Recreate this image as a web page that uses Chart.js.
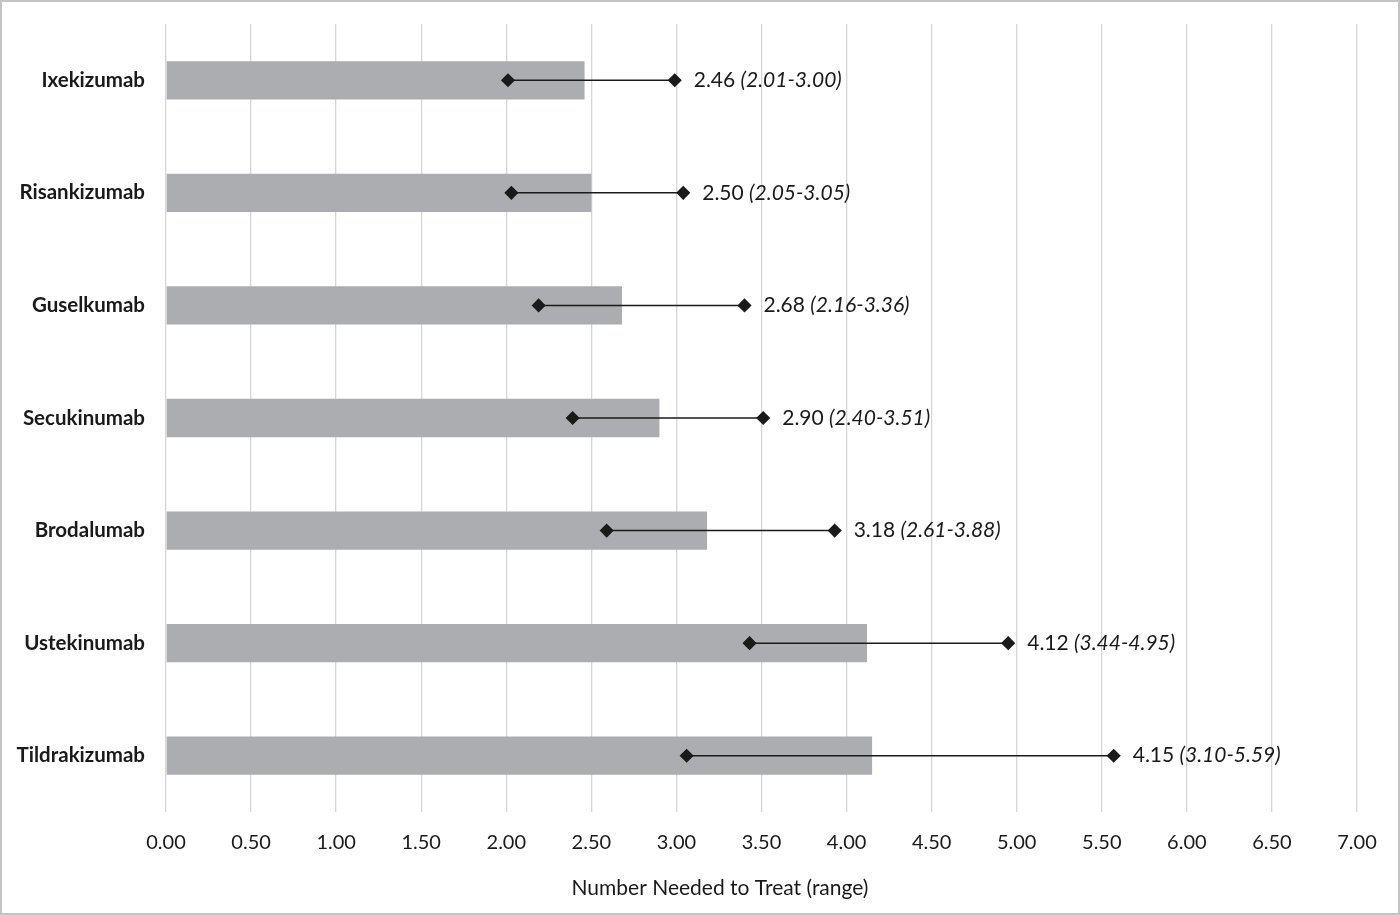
<!DOCTYPE html>
<html>
<head>
<meta charset="utf-8">
<script src="https://cdn.jsdelivr.net/npm/chart.js@4"></script>
<style>
  body { margin: 0; background: #fff; }
  .frame { width: 1396px; height: 911px; border: 2px solid #c4c4c4; position: relative; }
</style>
</head>
<body>
<div class="frame"><canvas id="nntChart" width="1396" height="911"></canvas></div>
<script>
const drugs = ["Ixekizumab", "Risankizumab", "Guselkumab", "Secukinumab", "Brodalumab", "Ustekinumab", "Tildrakizumab"];
const nnt = [2.46, 2.50, 2.68, 2.90, 3.18, 4.12, 4.15];
// marker positions as drawn in the figure
const lowMark = [2.01, 2.03, 2.19, 2.39, 2.59, 3.43, 3.06];
const highMark = [2.99, 3.04, 3.40, 3.51, 3.93, 4.95, 5.57];
// range text printed next to each marker
const rangeText = ["(2.01-3.00)", "(2.05-3.05)", "(2.16-3.36)", "(2.40-3.51)", "(2.61-3.88)", "(3.44-4.95)", "(3.10-5.59)"];
const axisTitle = "Number Needed to Treat (range)";

const fontFam = "Lato, 'Open Sans', sans-serif";

const rangeSets = drugs.map((d, i) => ({
  type: "line",
  data: [{ x: lowMark[i], y: d }, { x: highMark[i], y: d }],
  borderColor: "#1a1a1a",
  borderWidth: 1.5,
  pointStyle: "rectRot",
  pointRadius: 6,
  pointBackgroundColor: "#1a1a1a",
  pointBorderColor: "#1a1a1a",
  order: 1,
}));

const rangeLabels = {
  id: "rangeLabels",
  afterDatasetsDraw(chart) {
    const { ctx, scales } = chart;
    ctx.save();
    ctx.fillStyle = "#1a1a1a";
    ctx.textBaseline = "middle";
    drugs.forEach((d, i) => {
      let x = scales.x.getPixelForValue(highMark[i]) + 19;
      const y = scales.y.getPixelForValue(i);
      ctx.font = "21px " + fontFam;
      const main = nnt[i].toFixed(2) + " ";
      ctx.fillText(main, x, y);
      x += ctx.measureText(main).width;
      ctx.font = "italic 21px " + fontFam;
      ctx.fillText(rangeText[i], x, y);
    });
    // axis title, centred on the figure rather than the plot area
    ctx.font = "21px " + fontFam;
    ctx.textAlign = "center";
    ctx.fillText(axisTitle, 718, 886);
    ctx.restore();
  },
};

new Chart(document.getElementById("nntChart"), {
  type: "bar",
  data: {
    labels: drugs,
    datasets: [
      {
        data: nnt,
        backgroundColor: "#acadb0",
        barPercentage: 0.34,
        categoryPercentage: 1,
        order: 2,
      },
      ...rangeSets,
    ],
  },
  options: {
    indexAxis: "y",
    responsive: false,
    animation: false,
    devicePixelRatio: 1,
    layout: { padding: { top: 22, right: 41, left: 0, bottom: 0 } },
    plugins: { legend: { display: false }, tooltip: { enabled: false } },
    scales: {
      x: {
        min: 0,
        max: 7,
        border: { display: false },
        grid: { color: "#d6d6d6", lineWidth: 1.3, drawTicks: false },
        ticks: {
          stepSize: 0.5,
          padding: 19,
          color: "#1a1a1a",
          font: { size: 20, family: fontFam },
          callback: (v) => Number(v).toFixed(2),
        },
        afterFit: (s) => { s.height = 101; },
      },
      y: {
        border: { display: false },
        grid: { display: false, drawTicks: true, tickLength: 21 },
        ticks: {
          padding: 0,
          color: "#1a1a1a",
          font: { size: 20.5, weight: "bold", family: fontFam },
        },
        afterFit: (s) => { s.width = 164; },
      },
    },
  },
  plugins: [rangeLabels],
});
</script>
</body>
</html>
